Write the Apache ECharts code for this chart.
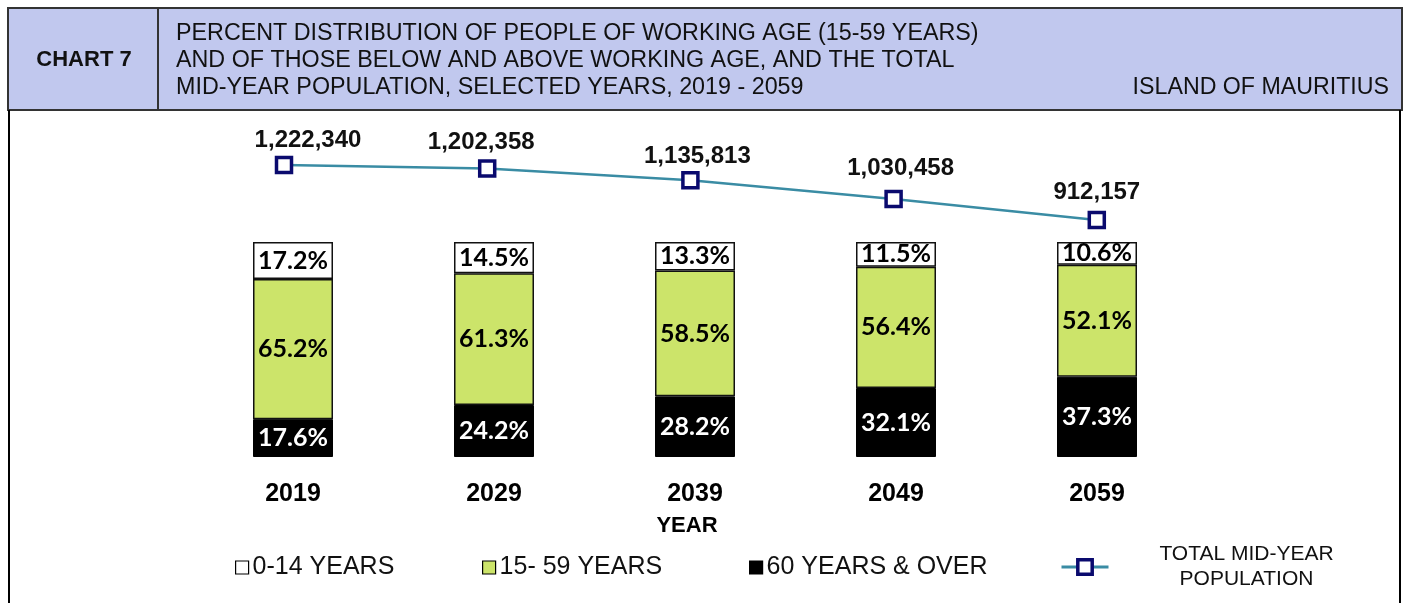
<!DOCTYPE html>
<html><head><meta charset="utf-8">
<script src="https://cdn.jsdelivr.net/npm/echarts@6/dist/echarts.min.js"></script>
<style>html,body{margin:0;padding:0;background:#fff}#c{width:1408px;height:603px}</style>
</head><body><div id="c"></div>
<script>
const years = ['2019','2029','2039','2049','2059'];
const age60plus = [17.6, 24.2, 28.2, 32.1, 37.3];
const age15to59 = [65.2, 61.3, 58.5, 56.4, 52.1];
const age0to14 = [17.2, 14.5, 13.3, 11.5, 10.6];
const totalPop = [1222340, 1202358, 1135813, 1030458, 912157];
const titleLines = ['PERCENT DISTRIBUTION OF PEOPLE OF WORKING AGE (15-59 YEARS)','AND OF THOSE BELOW AND ABOVE WORKING AGE, AND THE TOTAL','MID-YEAR POPULATION, SELECTED YEARS, 2019 - 2059'];
// label nudges (style only), as placed in the original
const popLabelNudge = [[24,0],[-6,-2],[7,0],[7,-6],[0,-3]];

const chart = echarts.init(document.getElementById('c'));
const barLabelBase = {show:true, position:'inside', fontFamily:'Lato', fontWeight:'bold', fontSize:25, formatter: p => p.value.toFixed(1)+'%'};
const fmt = v => v.toLocaleString('en-US');
const legText = {fontFamily:'Liberation Sans', fontSize:25, color:'#111', padding:[0,0,0,-1]};
chart.setOption({
  animation:false,
  graphic:[
    {type:'rect', shape:{x:8,y:8,width:1394,height:102}, style:{fill:'#c1c8ee', stroke:'#333', lineWidth:2}},
    {type:'line', shape:{x1:158,y1:8,x2:158,y2:110}, style:{stroke:'#333', lineWidth:2}},
    {type:'line', shape:{x1:9,y1:110,x2:9,y2:603}, style:{stroke:'#000', lineWidth:2}},
    {type:'line', shape:{x1:1400,y1:110,x2:1400,y2:603}, style:{stroke:'#000', lineWidth:2}},
    {type:'text', x:84, y:60, style:{text:'CHART 7', font:'bold 22px "Liberation Sans", Arial', fill:'#111', align:'center', verticalAlign:'middle'}},
    {type:'text', x:176, y:20, style:{text:titleLines.join('\n'), font:'23.3px "Liberation Sans", Arial', fill:'#111', lineHeight:27}},
    {type:'text', x:1389, y:88, style:{text:'ISLAND OF MAURITIUS', font:'23.2px "Liberation Sans", Arial', fill:'#111', align:'right', verticalAlign:'middle'}}
  ],
  legend:[
    {left:230, top:550, icon:'rect', itemWidth:13, itemHeight:13, data:['0-14 YEARS'], itemStyle:{borderWidth:1.2, borderColor:'#000'}, textStyle:legText},
    {left:477, top:550, icon:'rect', itemWidth:13, itemHeight:13, data:['15- 59 YEARS'], itemStyle:{borderWidth:1.2, borderColor:'#000'}, textStyle:legText},
    {left:744, top:550, icon:'rect', itemWidth:13, itemHeight:13, data:['60 YEARS & OVER'], itemStyle:{borderWidth:1.2, borderColor:'#000'}, textStyle:legText},
    {left:1055, top:539, itemWidth:47, itemHeight:18, itemGap:10, data:['TOTAL MID-YEAR POPULATION'],
     itemStyle:{color:'#fff', borderColor:'#0a0a6e', borderWidth:3.5}, lineStyle:{color:'#3a8ca4', width:3},
     formatter:()=>'{c|TOTAL MID-YEAR}\n{c|POPULATION}',
     textStyle:{padding:[0,0,0,38], rich:{c:{width:190, align:'center', fontFamily:'Liberation Sans', fontSize:21, lineHeight:25, color:'#111'}}}}
  ],
  grid:[
    {left:192.5, width:1005, top:130, bottom:146},
    {left:182.4, width:1016, top:130, bottom:146}
  ],
  xAxis:[
    {type:'category', data:years, gridIndex:0, axisLine:{show:false}, axisTick:{show:false},
     axisLabel:{margin:25, fontFamily:'Liberation Sans', fontWeight:'bold', fontSize:25, color:'#000'},
     name:'YEAR', nameLocation:'middle', nameGap:58, nameTextStyle:{fontFamily:'Liberation Sans', fontWeight:'bold', fontSize:22, color:'#000', padding:[0,16,0,0]}},
    {type:'category', data:years, gridIndex:1, show:false}
  ],
  yAxis:[
    {type:'value', gridIndex:0, min:0, max:152.1, show:false},
    {type:'value', gridIndex:1, min:-424540, max:1419740, show:false}
  ],
  series:[
    {name:'60 YEARS & OVER', type:'bar', stack:'a', barWidth:80, data:age60plus,
     itemStyle:{color:'#000', borderColor:'#000', borderWidth:1},
     label:Object.assign({color:'#fff'}, barLabelBase)},
    {name:'15- 59 YEARS', type:'bar', stack:'a', barWidth:80, data:age15to59,
     itemStyle:{color:'#cce46a', borderColor:'#111', borderWidth:1.5},
     label:Object.assign({color:'#000'}, barLabelBase)},
    {name:'0-14 YEARS', type:'bar', stack:'a', barWidth:80, data:age0to14,
     itemStyle:{color:'#fff', borderColor:'#111', borderWidth:1.5},
     label:Object.assign({color:'#000'}, barLabelBase)},
    {name:'TOTAL MID-YEAR POPULATION', type:'line', xAxisIndex:1, yAxisIndex:1,
     data: totalPop.map((v,i)=>({value:v, label:{offset:popLabelNudge[i]}})),
     symbol:'rect', symbolSize:15, lineStyle:{color:'#3a8ca4', width:2.5},
     itemStyle:{color:'#fff', borderColor:'#0a0a6e', borderWidth:3.5},
     label:{show:true, position:'top', distance:3, fontFamily:'Liberation Sans', fontWeight:'bold', fontSize:24, color:'#111', formatter:p=>fmt(p.value)}}
  ]
});
</script></body></html>
